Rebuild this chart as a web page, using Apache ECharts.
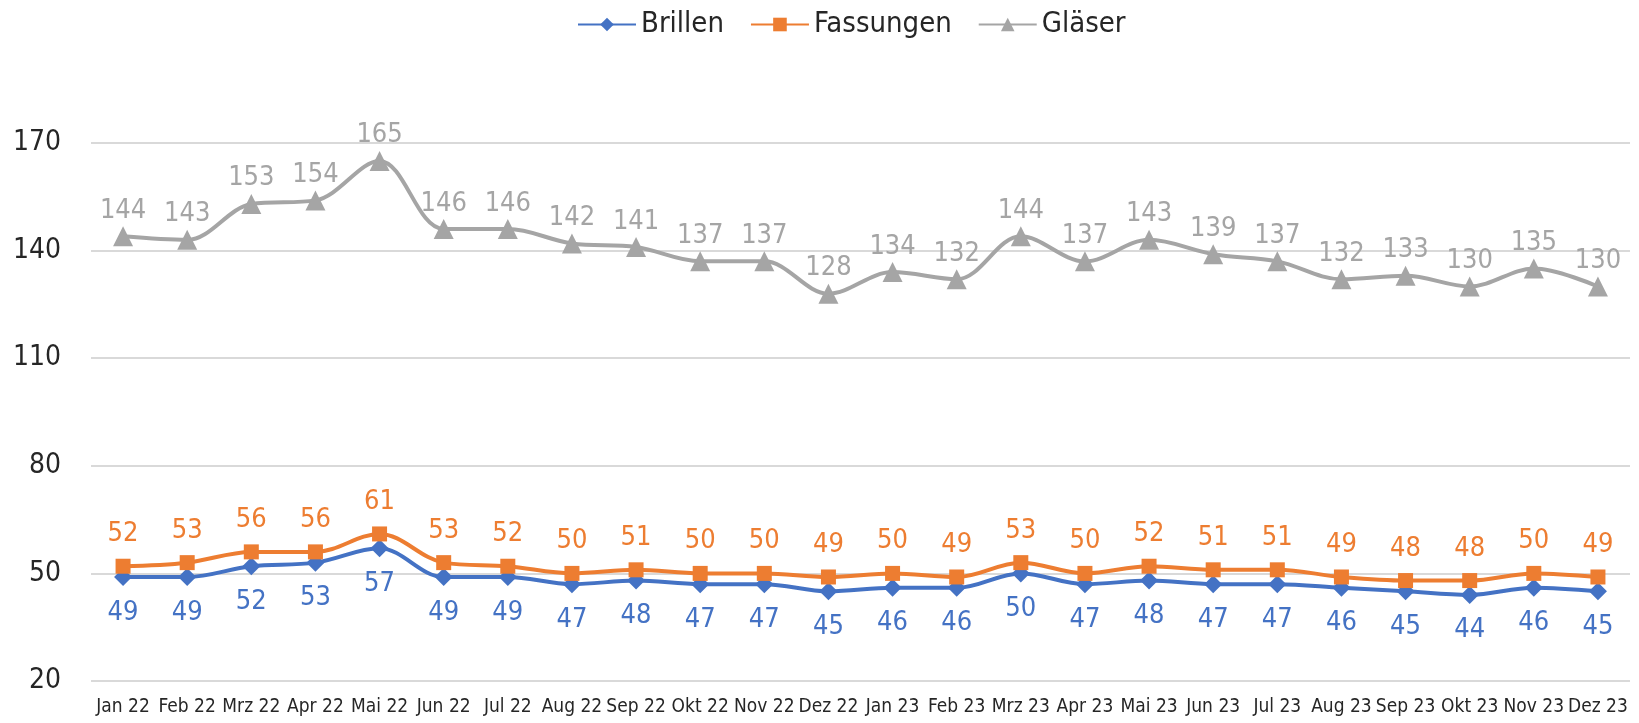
<!DOCTYPE html>
<html><head><meta charset="utf-8">
<script src="https://cdn.jsdelivr.net/npm/echarts@6/dist/echarts.min.js"></script>
<style>html,body{margin:0;padding:0;background:#fff}#c{width:1639px;height:723px}</style>
</head><body><div id="c"></div>
<script>
var categories = ['Jan 22','Feb 22','Mrz 22','Apr 22','Mai 22','Jun 22','Jul 22','Aug 22','Sep 22','Okt 22','Nov 22','Dez 22','Jan 23','Feb 23','Mrz 23','Apr 23','Mai 23','Jun 23','Jul 23','Aug 23','Sep 23','Okt 23','Nov 23','Dez 23'];
var brillen = [49,49,52,53,57,49,49,47,48,47,47,45,46,46,50,47,48,47,47,46,45,44,46,45];
var fassungen = [52,53,56,56,61,53,52,50,51,50,50,49,50,49,53,50,52,51,51,49,48,48,50,49];
var glaeser = [144,143,153,154,165,146,146,142,141,137,137,128,134,132,144,137,143,139,137,132,133,130,135,130];
var yMin = 20, yMax = 170, yStep = 30;

var FONT = '"Liberation Sans Narrow","DejaVu Sans Condensed","Roboto Condensed",sans-serif';
var chart = echarts.init(document.getElementById('c'));
function mk(name, data, color, symbol, size, pos, dist) {
  return {
    name: name, type: 'line', data: data, smooth: 0.35,
    symbol: symbol, symbolSize: size,
    lineStyle: {color: color, width: 4},
    itemStyle: {color: color},
    label: {show: true, position: pos, distance: dist, color: color,
            fontFamily: FONT, fontSize: 27, fontWeight: 300},
    z: 3
  };
}
chart.setOption({
  animation: false,
  legend: {
    top: 5, left: 572, itemWidth: 58, itemHeight: 17, itemGap: 26,
    textStyle: {fontFamily: FONT, fontSize: 29, color: '#262626'},
    data: ['Brillen','Fassungen','Gläser']
  },
  grid: {left: 91, right: 9, top: 143, bottom: 42, containLabel: false, outerBoundsMode: 'none'},
  xAxis: {
    type: 'category', data: categories, boundaryGap: true,
    axisLine: {show: false}, axisTick: {show: false},
    axisLabel: {interval: 0, fontFamily: FONT, fontSize: 19, color: '#262626', margin: 17}
  },
  yAxis: {
    type: 'value', min: yMin, max: yMax, interval: yStep,
    axisLine: {show: false}, axisTick: {show: false},
    axisLabel: {fontFamily: FONT, fontSize: 28, color: '#262626', margin: 30},
    splitLine: {lineStyle: {color: '#d9d9d9', width: 2}}
  },
  series: [
    mk('Brillen', brillen, '#4472C4', 'diamond', 18, 'bottom', 13),
    mk('Fassungen', fassungen, '#ED7D31', 'rect', 15, 'top', 11),
    mk('Gläser', glaeser, '#A5A5A5', 'triangle', 20, 'top', 2)
  ]
});
</script></body></html>
